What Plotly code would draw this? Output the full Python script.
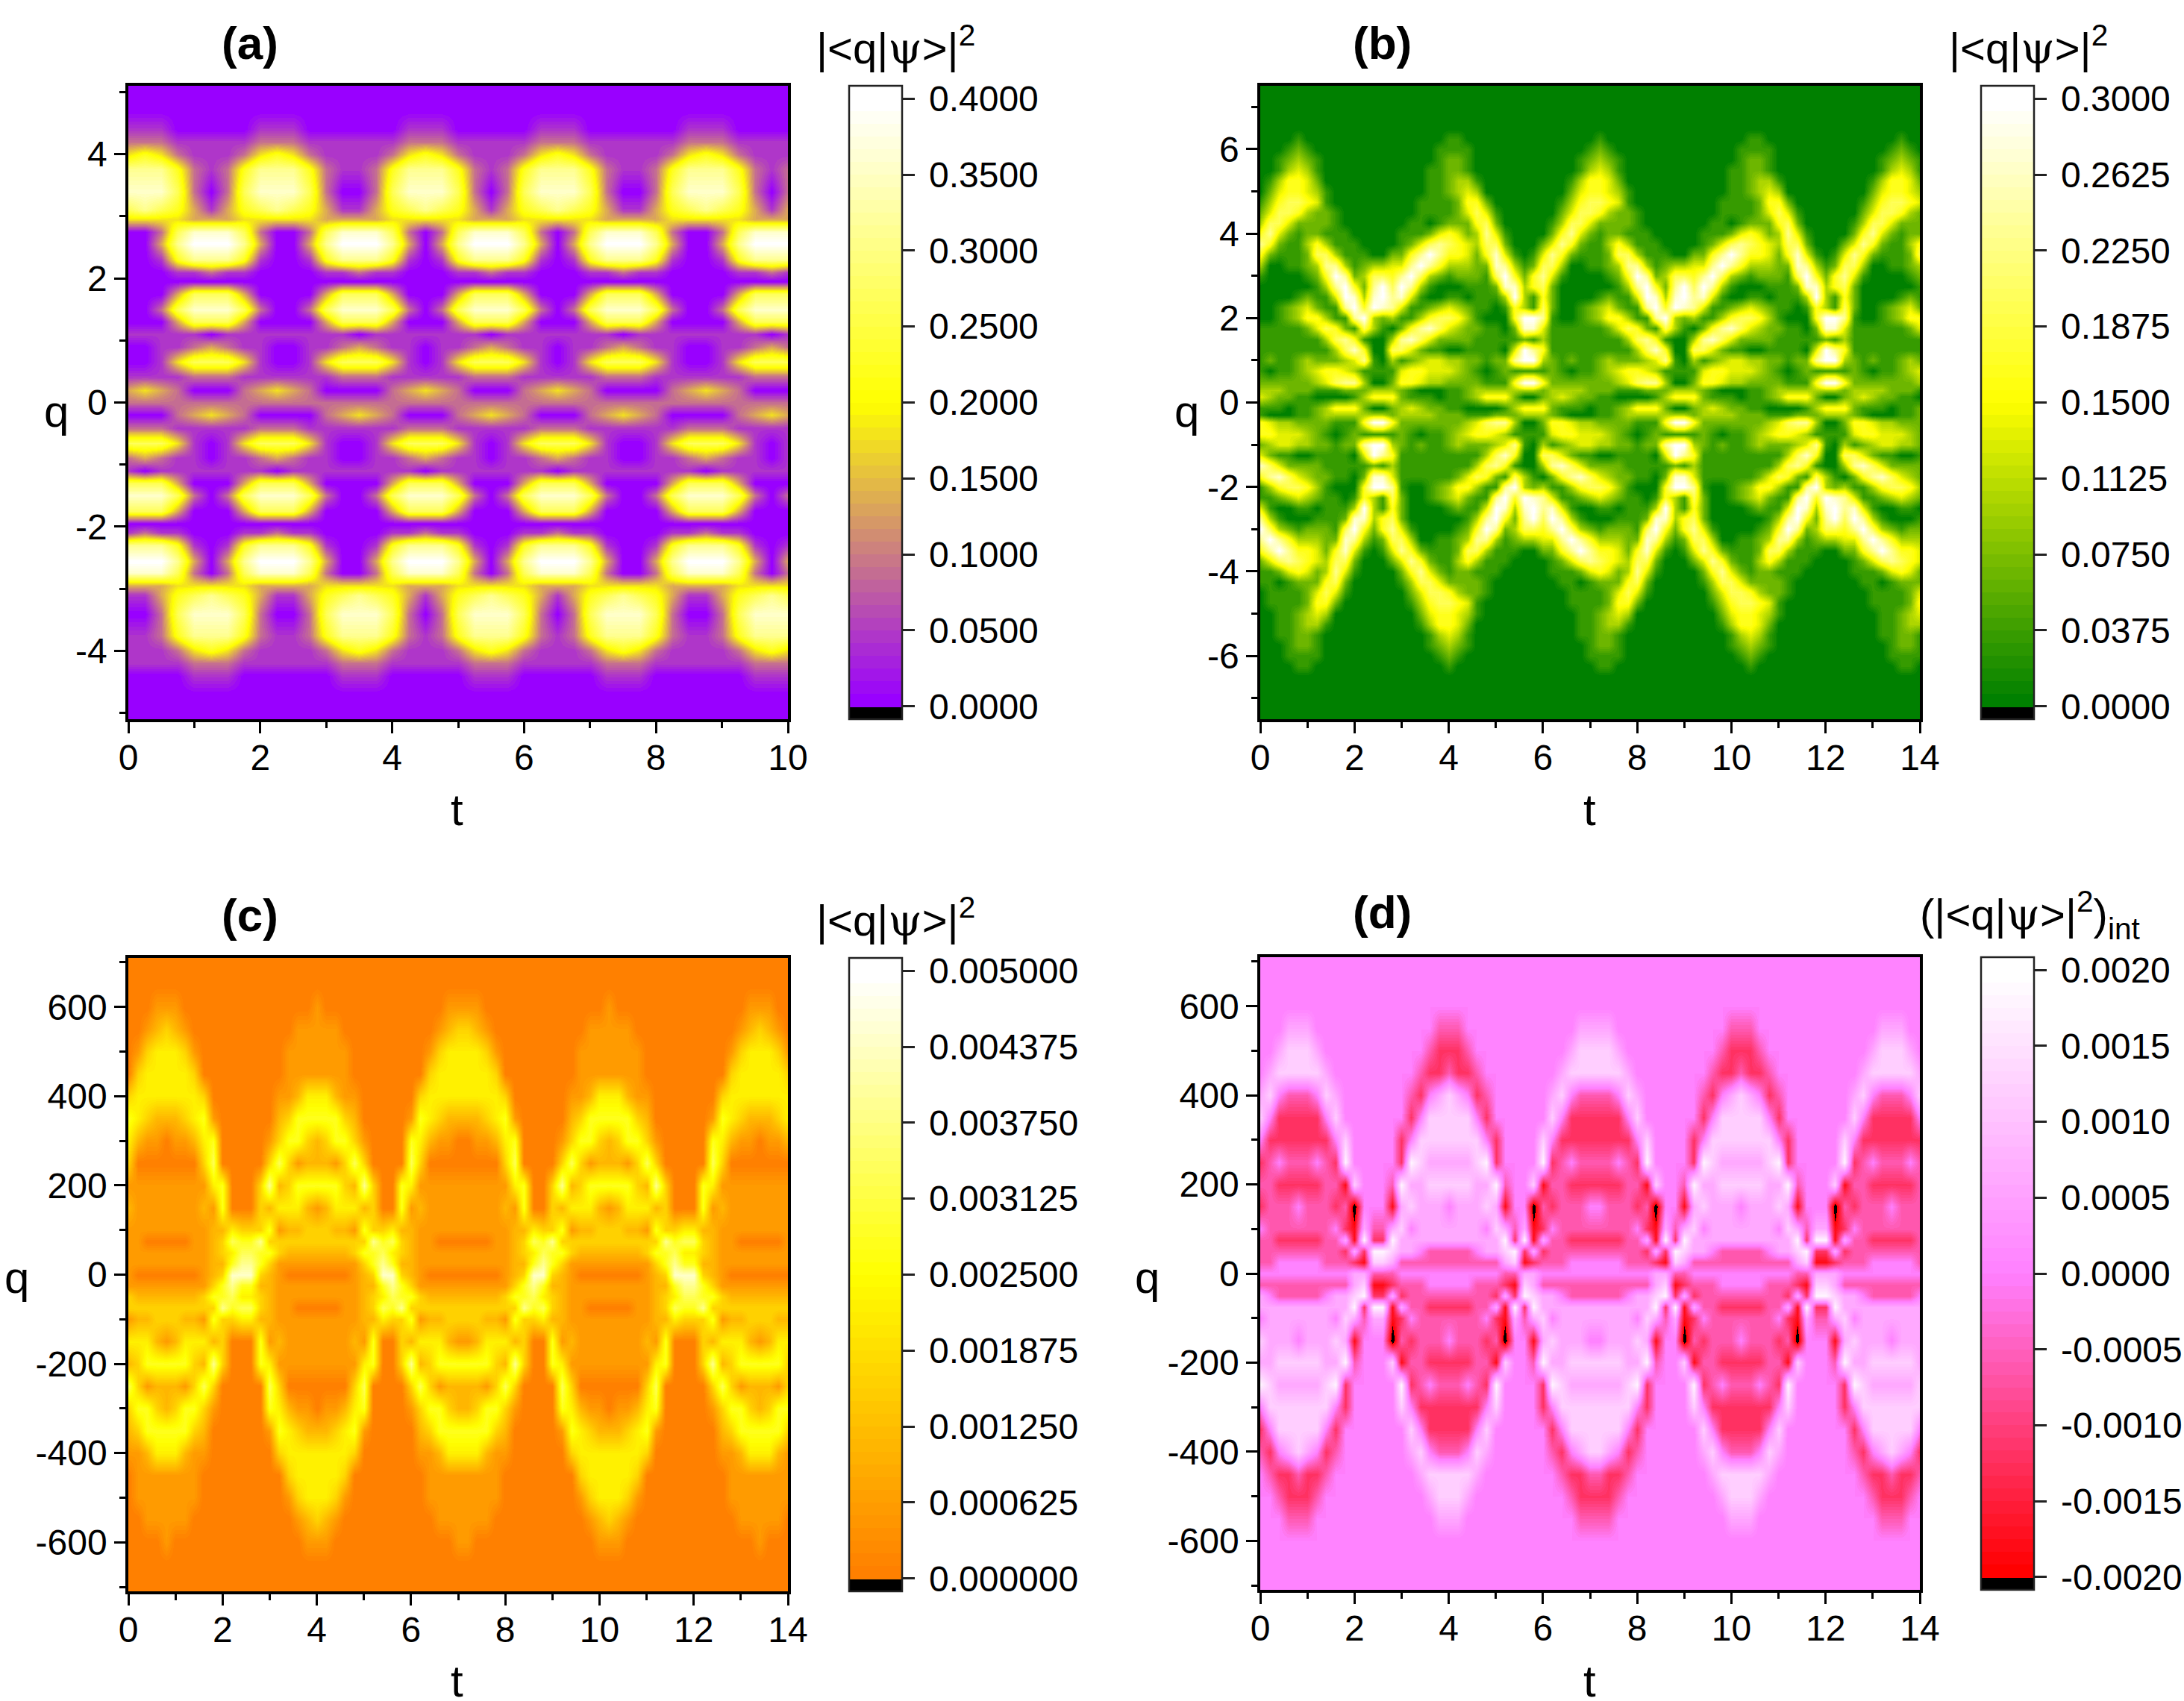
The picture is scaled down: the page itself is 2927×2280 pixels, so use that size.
import plotly.graph_objects as go

W, H = 2927, 2280

# ---------- values (one digit per cell, rows top to bottom) ----------
t_a = [0.25 * i for i in range(41)]
q_a = [5.1, 4.7, 4.4, 4.2, 4.0, 3.75, 3.4, 3.1, 2.95, 2.75, 2.55, 2.3, 2.1, 1.95, 1.75, 1.5, 1.3, 1.1, 0.9, 0.65, 0.42, 0.2, 0,
       -0.2, -0.42, -0.65, -0.9, -1.1, -1.3, -1.5, -1.75, -1.95, -2.1, -2.3, -2.55, -2.75, -2.95, -3.1, -3.4, -3.75, -4.0, -4.2, -4.4, -4.7, -5.1]
z_a_rows = [
"00000000000000000000000000000000000000000",
"00000000000000000000000000000000000000000",
"11100000111000000111000001110000001110000",
"22211111222111111222111112221111112221111",
"45421112454211112454211124542111124542111",
"77752125777521125777521257775211257775212",
"88862026888620026888620268886200268886202",
"67653135676531135676531356765311356765313",
"44443334444433334444433344444333344444333",
"00268886200268886202688862026888620026888",
"00379997300379997303799973037999730037999",
"00157775100157775101577751015777510015777",
"00011211000011211000112110001121100001121",
"00000000000000000000000000000000000000000",
"00036663000036663000366630003666300003666",
"00268886200268886202688862026888620026888",
"00036663000036663000366630003666300003666",
"11111011111111011111110111111101111111101",
"00112321100112321101123211011232110011232",
"00146664100146664101466641014666410014666",
"11112221111112221111122211111222111111222",
"34320002343200002343200023432000023432000",
"22222222222222222222222222222222222222222",
"00023432000023432000234320002343200002343",
"22211111222111111222111112221111112221111",
"66641014666410014666410146664100146664101",
"23211011232110011232110112321100112321101",
"10111111101111111101111111011111111011111",
"66630003666300003666300036663000036663000",
"88862026888620026888620268886200268886202",
"66630003666300003666300036663000036663000",
"00000000000000000000000000000000000000000",
"12110001121100001121100011211000011211000",
"77751015777510015777510157775100157775101",
"99973037999730037999730379997300379997303",
"88862026888620026888620268886200268886202",
"33344444333344444333444443334444433334444",
"11356765311356765313567653135676531135676",
"00268886200268886202688862026888620026888",
"11257775211257775212577752125777521125777",
"11124542111124542111245421112454211112454",
"11112221111112221111122211111222111111222",
"00001110000001110000011100000111000000111",
"00000000000000000000000000000000000000000",
"00000000000000000000000000000000000000000",
]

t_14 = [0.2 * i for i in range(71)]
q_b = [7.5, 6.5, 6.25, 6, 5.75, 5.5, 5.25, 5, 4.75, 4.5, 4.25, 4, 3.75, 3.5, 3.25, 3, 2.75, 2.5, 2.25, 2, 1.75, 1.5, 1.25, 1, 0.75, 0.47, 0.3, 0.14,
       -0.14, -0.3, -0.47, -0.75, -1, -1.25, -1.5, -1.75, -2, -2.25, -2.5, -2.75, -3, -3.25, -3.5, -3.75, -4, -4.25, -4.5, -4.75, -5, -5.25, -5.5, -5.75, -6, -6.25, -6.5, -7.5]
z_b_rows = [
"00000000000000000000000000000000000000000000000000000000000000000000000",
"00000000000000000000000000000000000000000000000000000000000000000000000",
"0000100000000 0000000110000000 0000000100000000 0000000110000000 0000000100",
"0001210000000 0000001111000000 0000001210000000 0000001111000000 0000001210",
"0012321000000 0000001221000000 0000012321000000 0000001221000000 0000012321",
"0013431000000 0000011221000000 0000013431000000 0000011221000000 0000013431",
"0135542000000 0000011233100000 0000135542000000 0000011233100000 0000135542",
"0245543100000 0000011234300000 0000245543100000 0000011234300000 0000245543",
"1356654100000 0000111125520000 0001356654100000 0000111125520000 0001356654",
"2466532210000 0000111124641000 0002466532210000 0000111124641000 0002466532",
"3664222210000 0001101222562000 0013664222210000 0001101222562000 0013664222",
"5742122111000 0011124542374100 0025742122111000 0011124542374100 0025742122",
"7521135311100 0012467654366200 0247521135311100 0012467654366200 0247521135",
"5211126631110 0225797554258410 1475211126631110 0225797554258410 1475211126",
"3001123773123 3447975333228731 2663001123773123 3447975333228731 2663001123",
"1000012597236 6579632122216952 5741000012597236 6579632122216952 5741000012",
"0000001379527 9697310001112883 5620000001379527 9697310001112883 5620000001",
"0000121149838 9784100110111393 1520000121149838 9784100110111393 1520000121",
"0012342117959 8741123432110153 1620012342117959 8741123432110153 1620012342",
"0012355311793 2311356653100059 9710012355311793 2311356653100059 9710012355",
"1111124652163 1025786432211028 8411111124652163 1025786432211028 8411111124",
"1111111367510 0378642222111112 1311111111367510 0378642222111112 1311111111",
"1111111136850 0664211001111049 7511111111136850 0664211001111049 7511111111",
"1211232223471 0312344332212279 9321211232223471 0312344332212279 9321211232",
"1011234554311 1145544432101211 1121011234554311 1145544432101211 1121011234",
"2222223467730 0255433222211159 9522222223467730 0255433222211159 9522222223",
"3332221112223 3321000112333333 3233332221112223 3321000112333333 3233332221",
"4322110000135 5521110112355520 0234322110000135 5521110112355520 0234322110",
"1110112355520 0234322110000135 5521110112355520 0234322110000135 5521110112",
"1000112333333 3233332221112223 3321000112333333 3233332221112223 3321000112",
"5433222211159 9522222223467730 0255433222211159 9522222223467730 0255433222",
"5544432101211 1121011234554311 1145544432101211 1121011234554311 1145544432",
"2344332212279 9321211232223471 0312344332212279 9321211232223471 0312344332",
"4211001111049 7511111111136850 0664211001111049 7511111111136850 0664211001",
"8642222111112 1311111111367510 0378642222111112 1311111111367510 0378642222",
"5786432211028 8411111124652163 1025786432211028 8411111124652163 1025786432",
"1356653100059 9710012355311793 2311356653100059 9710012355311793 2311356653",
"1123432110153 1620012342117959 8741123432110153 1620012342117959 8741123432",
"4100110111393 1520000121149838 9784100110111393 1520000121149838 9784100110",
"7310001112883 5620000001379527 9697310001112883 5620000001379527 9697310001",
"9632122216952 5741000012597236 6579632122216952 5741000012597236 6579632122",
"7975333228731 2663001123773123 3447975333228731 2663001123773123 3447975333",
"5797554258410 1475211126631110 0225797554258410 1475211126631110 0225797554",
"2467654366200 0247521135311100 0012467654366200 0247521135311100 0012467654",
"1124542374100 0025742122111000 0011124542374100 0025742122111000 0011124542",
"1101222562000 0013664222210000 0001101222562000 0013664222210000 0001101222",
"0111124641000 0002466532210000 0000111124641000 0002466532210000 0000111124",
"0111125520000 0001356654100000 0000111125520000 0001356654100000 0000111125",
"0011234300000 0000245543100000 0000011234300000 0000245543100000 0000011234",
"0011233100000 0000135542000000 0000011233100000 0000135542000000 0000011233",
"0011221000000 0000013431000000 0000011221000000 0000013431000000 0000011221",
"0001221000000 0000012321000000 0000001221000000 0000012321000000 0000001221",
"0001111000000 0000001210000000 0000001111000000 0000001210000000 0000001111",
"0000110000000 0000000100000000 0000000110000000 0000000100000000 0000000110",
"00000000000000000000000000000000000000000000000000000000000000000000000",
"00000000000000000000000000000000000000000000000000000000000000000000000",
]

q_cd = [710, 650, 600, 550, 500, 450, 400, 350, 300, 250, 200, 150, 100, 75, 50, 25, 0,
        -25, -50, -75, -100, -150, -200, -250, -300, -350, -400, -450, -500, -550, -600, -650, -710]
z_c_rows = [
"00000000000000000000000000000000000000000000000000000000000000000000000",
"00000000000000000000000000000000000000000000000000000000000000000000000",
"000111000000 0000000010000000 0000001111000000 000000010000000 000000011100",
"0012 3 2100000 0 0000011 1 1100000 0000012 33 2100000 0000011 1 1100000 0 0000012 3 210",
"0134 4 4310000 0 0000111 1 1110000 0000134 44 4310000 0000111 1 1110000 0 0000134 4 431",
"0344 4 4430000 0 0000111 1 1110000 0000344 44 4430000 0000111 1 1110000 0 0000344 4 443",
"3444 4 4443000 0 0001124 4 4211000 0003444 44 4443000 0001124 4 4211000 0 0003444 4 444",
"5432 2 2345100 0 0002355 5 5532000 0015432 22 2345100 0002355 5 5532000 0 0015432 2 234",
"4211 0 1124500 0 0013553 2 3553100 0054211 00 1124500 0013553 2 3553100 0 0054211 0 112",
"3000 0 0003600 0 0036312 2 2136300 0063000 00 0003600 0036312 2 2136300 0 0063000 0 000",
"1111 1 1111450 0 0372355 5 5532730 0541111 11 1111450 0372355 5 5532730 0 0541111 1 111",
"2111 1 1112150 0 0324442 1 2444230 0512111 11 1112150 0324442 1 2444230 0 0512111 1 111",
"1111 1 1111224 3 3351223 3 3221533 4221111 11 1111224 3351223 3 3221533 4 4221111 1 111",
"1100 0 0011236 5 5733333 3 3333375 6321100 00 0011236 5733333 3 3333375 6 6321100 0 001",
"1111 1 1111234 6 6553222 2 2223556 4321111 11 1111234 6553222 2 2223556 4 4321111 1 111",
"1111 1 1111225 7 7531111 1 1111357 5221111 11 1111225 7531111 1 1111357 5 5221111 1 111",
"1000 0 0001238 8 8321000 0 0001238 8321000 00 0001238 8321000 0 0001238 8 8321000 0 000",
"1111 1 1111357 5 5221111 1 1111225 7531111 11 1111357 5221111 1 1111225 7 7531111 1 111",
"3222 2 2223556 4 4321111 1 1111234 6553222 22 2223556 4321111 1 1111234 6 6553222 2 222",
"3333 3 3333375 6 6321100 0 0011236 5733333 33 3333375 6321100 0 0011236 5 5733333 3 333",
"1223 3 3221533 4 4221111 1 1111224 3351223 33 3221533 4221111 1 1111224 3 3351223 3 322",
"4442 1 2444230 0 0512111 1 1112150 0324442 11 2444230 0512111 1 1112150 0 0324442 1 244",
"2355 5 5532730 0 0541111 1 1111450 0372355 55 5532730 0541111 1 1111450 0 0372355 5 553",
"6312 2 2136300 0 0063000 0 0003600 0036312 22 2136300 0063000 0 0003600 0 0036312 2 213",
"3553 2 3553100 0 0054211 0 1124500 0013553 22 3553100 0054211 0 1124500 0 0013553 2 355",
"2355 5 5532000 0 0015432 2 2345100 0002355 55 5532000 0015432 2 2345100 0 0002355 5 553",
"1124 4 4211000 0 0003444 4 4443000 0001124 44 4211000 0003444 4 4443000 0 0001124 4 421",
"0111 1 1110000 0 0000344 4 4430000 0000111 11 1110000 0000344 4 4430000 0 0000111 1 111",
"0111 1 1110000 0 0000134 4 4310000 0000111 11 1110000 0000134 4 4310000 0 0000111 1 111",
"0011 1 1100000 0 0000012 3 2100000 0000011 11 1100000 0000012 3 2100000 0 0000011 1 110",
"000010000000 0000000111000000 0000000110000000 000000111000000 000000001000",
"00000000000000000000000000000000000000000000000000000000000000000000000",
"00000000000000000000000000000000000000000000000000000000000000000000000",
]

z_d_rows = [
"44444444444444444444444444444444444444444444444444444444444444444444444",
"44444444444444444444444444444444444444444444444444444444444444444444444",
"44444444444444444444444444444444444444444444444444444444444444444444444",
"4445 5 5444444 4 4444443 3 3444444 4444445 55 5444444 4444443 3 3444444 4 4444445 5 544",
"4456 6 6544444 4 4444432 2 2344444 4444456 66 6544444 4444432 2 2344444 4 4444456 6 654",
"4566 6 6654444 4 4444322 3 2234444 4444566 66 6654444 4444322 3 2234444 4 4444566 6 665",
"5643 3 3465444 4 4443245 6 5423444 4445643 33 3465444 4443245 6 5423444 4 4445643 3 346",
"6422 2 2246444 4 4442466 6 6642444 4446422 22 2246444 4442466 6 6642444 4 4446422 2 224",
"4222 2 2224644 4 4424666 6 6664244 4464222 22 2224644 4424666 6 6664244 4 4464222 2 222",
"2343 3 3432744 4 4427655 5 5567244 4472343 33 3432744 4427655 5 5567244 4 4472343 3 343",
"3322 2 2233164 4 4375566 6 6655734 4613322 22 2233164 4375566 6 6655734 4 4613322 2 223",
"2333 4 3332304 4 4156555 4 5556514 4032333 44 3332304 4156555 4 5556514 4 4032333 4 333",
"4333 3 3334215 3 3564555 5 5554653 5124333 33 3334215 3564555 5 5554653 5 5124333 3 333",
"3322 2 2233517 2 2755555 5 5555572 7153322 22 2233517 2755555 5 5555572 7 7153322 2 223",
"3333 3 3333252 7 7655433 3 3345567 2523333 33 3333252 7655433 3 3345567 2 2523333 3 333",
"3344 4 4433321 6 6533333 3 3333356 1233344 44 4433321 6533333 3 3333356 1 1233344 4 443",
"4444 4 4444455 3 3344444 4 4444433 5544444 44 4444455 3344444 4 4444433 5 5544444 4 444",
"3333 3 3333356 1 1233344 4 4433321 6533333 33 3333356 1233344 4 4433321 6 6533333 3 333",
"5433 3 3345567 2 2523333 3 3333252 7655433 33 3345567 2523333 3 3333252 7 7655433 3 334",
"5555 5 5555572 7 7153322 2 2233517 2755555 55 5555572 7153322 2 2233517 2 2755555 5 555",
"4555 5 5554653 5 5124333 3 3334215 3564555 55 5554653 5124333 3 3334215 3 3564555 5 555",
"6555 4 5556514 4 4032333 4 3332304 4156555 44 5556514 4032333 4 3332304 4 4156555 4 555",
"5566 6 6655734 4 4613322 2 2233164 4375566 66 6655734 4613322 2 2233164 4 4375566 6 665",
"7655 5 5567244 4 4472343 3 3432744 4427655 55 5567244 4472343 3 3432744 4 4427655 5 556",
"4666 6 6664244 4 4464222 2 2224644 4424666 66 6664244 4464222 2 2224644 4 4424666 6 666",
"2466 6 6642444 4 4446422 2 2246444 4442466 66 6642444 4446422 2 2246444 4 4442466 6 664",
"3245 6 5423444 4 4445643 3 3465444 4443245 66 5423444 4445643 3 3465444 4 4443245 6 542",
"4322 3 2234444 4 4444566 6 6654444 4444322 33 2234444 4444566 6 6654444 4 4444322 3 223",
"4432 2 2344444 4 4444456 6 6544444 4444432 22 2344444 4444456 6 6544444 4 4444432 2 234",
"4443 3 3444444 4 4444445 5 5444444 4444443 33 3444444 4444445 5 5444444 4 4444443 3 344",
"44444444444444444444444444444444444444444444444444444444444444444444444",
"44444444444444444444444444444444444444444444444444444444444444444444444",
"44444444444444444444444444444444444444444444444444444444444444444444444",
]

# value of one digit step
unit_a, unit_b, unit_c, unit_d = 0.4 / 9, 0.3 / 9, 0.005 / 9, 0.0006
offset_d = 4

ticks_x_10 = [0, 2, 4, 6, 8, 10]
ticks_x_14 = [0, 2, 4, 6, 8, 10, 12, 14]
ticks_q_a = [-4, -2, 0, 2, 4]
ticks_q_b = [-6, -4, -2, 0, 2, 4, 6]
ticks_q_cd = [-600, -400, -200, 0, 200, 400, 600]
cb_a = ["0.0000", "0.0500", "0.1000", "0.1500", "0.2000", "0.2500", "0.3000", "0.3500", "0.4000"]
cb_b = ["0.0000", "0.0375", "0.0750", "0.1125", "0.1500", "0.1875", "0.2250", "0.2625", "0.3000"]
cb_c = ["0.000000", "0.000625", "0.001250", "0.001875", "0.002500", "0.003125", "0.003750", "0.004375", "0.005000"]
cb_d = ["-0.0020", "-0.0015", "-0.0010", "-0.0005", "0.0000", "0.0005", "0.0010", "0.0015", "0.0020"]

# ---------- helpers ----------
FONT = "Liberation Sans"
TICK_SIZE = 48


def parse(rows, unit, width, offset=0):
    out = []
    for r in rows:
        r = r.replace(" ", "")
        r = r.ljust(width, r[-1])[:width]
        out.append([(int(c) - offset) * unit for c in r])
    return out


def stepped(zlo, zhi, zmin, zmax, anchors, n=48):
    def col(f):
        p = f * (len(anchors) - 1)
        i = min(int(p), len(anchors) - 2)
        u = p - i
        return "rgb(%d,%d,%d)" % tuple(round(anchors[i][k] + (anchors[i + 1][k] - anchors[i][k]) * u) for k in range(3))
    fr = lambda v: (v - zmin) / (zmax - zmin)
    gap = 1e-3
    sc = [[0, "rgb(0,0,0)"], [fr(zlo) - gap, "rgb(0,0,0)"]]
    for k in range(n):
        a = zlo + (zhi - zlo) * k / n
        b = zlo + (zhi - zlo) * (k + 1) / n if k < n - 1 else zmax
        c = col(k / (n - 1))
        sc.append([fr(a) - gap if k == 0 else fr(a), c])
        sc.append([min(1, fr(b)), c])
    return sc


PSI = "<span style=\"font-family:'DejaVu Serif'\">ψ</span>"
PANELS = [
    dict(x=t_a, y=q_a, z=parse(z_a_rows, unit_a, 41), lo=0, hi=0.4, anchors=[(153, 0, 255), (255, 255, 0), (255, 255, 255)],
         box=(172, 1056, 115, 964), cb=1138, xt=ticks_x_10, xmax=10, yt=ticks_q_a, yr=5.1, ym=1, xm=1, labels=cb_a,
         name="(a)", nx=335, ny=58, title="|&lt;q|" + PSI + "&gt;|<sup>2</sup>", tx=1200, ty=62,
         tpos=(612, 1085), qpos=(75, 551)),
    dict(x=t_14, y=q_b, z=parse(z_b_rows, unit_b, 71), lo=0, hi=0.3, anchors=[(0, 128, 0), (255, 255, 0), (255, 255, 255)],
         box=(1689, 2573, 115, 964), cb=2655, xt=ticks_x_14, xmax=14, yt=ticks_q_b, yr=7.5, ym=1, xm=1, labels=cb_b,
         name="(b)", nx=1852, ny=58, title="|&lt;q|" + PSI + "&gt;|<sup>2</sup>", tx=2718, ty=62,
         tpos=(2130, 1085), qpos=(1590, 551)),
    dict(x=t_14, y=q_cd, z=parse(z_c_rows, unit_c, 71), lo=0, hi=0.005, anchors=[(255, 128, 0), (255, 255, 0), (255, 255, 255)],
         box=(172, 1056, 1284, 2133), cb=1138, xt=ticks_x_14, xmax=14, yt=ticks_q_cd, yr=710, ym=100, xm=1, labels=cb_c,
         name="(c)", nx=335, ny=1226, title="|&lt;q|" + PSI + "&gt;|<sup>2</sup>", tx=1200, ty=1230,
         tpos=(612, 2253), qpos=(22, 1712)),
    dict(x=t_14, y=q_cd, z=parse(z_d_rows, unit_d, 71, offset_d), lo=-0.002, hi=0.002, anchors=[(255, 0, 0), (255, 128, 255), (255, 255, 255)],
         box=(1689, 2573, 1283, 2131), cb=2655, xt=ticks_x_14, xmax=14, yt=ticks_q_cd, yr=710, ym=100, xm=1, labels=cb_d,
         name="(d)", nx=1852, ny=1222, title="(|&lt;q|" + PSI + "&gt;|<sup>2</sup>)<sub>int</sub>", tx=2720, ty=1226,
         tpos=(2130, 2253), qpos=(1538, 1712)),
]

fig = go.Figure()
layout = dict(width=W, height=H, margin=dict(l=0, r=0, t=0, b=0, autoexpand=False), paper_bgcolor="white", plot_bgcolor="white",
              font=dict(family=FONT, color="black"), annotations=[])


def note(text, pos, size):
    return dict(text=text, xref="paper", yref="paper", x=pos[0] / W, y=1 - pos[1] / H, showarrow=False,
                xanchor="center", yanchor="middle", font=dict(family=FONT, size=size, color="black"))


for n, p in enumerate(PANELS, start=1):
    L, R, T, B = p["box"]
    span = p["hi"] - p["lo"]
    extra = span * 17.2 / 815
    zmin, zmax = p["lo"] - extra, p["hi"] + extra
    tickvals = [p["lo"] + span * k / 8 for k in range(9)]
    fig.add_trace(go.Heatmap(
        x=p["x"], y=p["y"], z=p["z"], zsmooth="best", zmin=zmin, zmax=zmax,
        colorscale=stepped(p["lo"], p["hi"], zmin, zmax, p["anchors"]),
        xaxis=f"x{n}", yaxis=f"y{n}", hoverinfo="skip",
        colorbar=dict(x=p["cb"] / W, xanchor="left", xpad=0, ypad=0, y=1 - T / H, yanchor="top", len=(B - T) / H, lenmode="fraction",
                      thickness=71, thicknessmode="pixels", outlinecolor="#222", outlinewidth=2.5, ticks="outside", ticklen=16, tickwidth=2.5,
                      tickcolor="#222", tickmode="array", tickvals=tickvals, ticktext=["\u2009" + s for s in p["labels"]],
                      tickfont=dict(family=FONT, size=TICK_SIZE, color="black")),
    ))
    common = dict(showline=True, mirror=True, linecolor="black", linewidth=3.5, ticks="outside", ticklen=15, tickwidth=3, tickcolor="black",
                  showgrid=False, zeroline=False, tickmode="array", tickfont=dict(family=FONT, size=TICK_SIZE, color="black"))
    layout[f"xaxis{n}"] = dict(common, domain=[L / W, R / W], range=[0, p["xmax"]], anchor=f"y{n}", tickvals=p["xt"], ticktext=[str(v) for v in p["xt"]],
                               ticklabelstandoff=-8,
                               minor=dict(tickmode="linear", tick0=0, dtick=p["xm"], ticks="outside", ticklen=8, tickwidth=3, tickcolor="black", showgrid=False))
    layout[f"yaxis{n}"] = dict(common, domain=[1 - B / H, 1 - T / H], range=[-p["yr"], p["yr"]], anchor=f"x{n}", tickvals=p["yt"], ticktext=[str(v) for v in p["yt"]],
                               minor=dict(tickmode="linear", tick0=0, dtick=p["ym"], ticks="outside", ticklen=8, tickwidth=3, tickcolor="black", showgrid=False))
    layout["annotations"] += [
        note(f"<b>{p['name']}</b>", (p["nx"], p["ny"]), 62),
        note(p["title"], (p["tx"], p["ty"]), 58),
        note("t", p["tpos"], 60),
        note("q", p["qpos"], 60),
    ]

fig.update_layout(**layout)
fig.write_html("out.html", config={"displayModeBar": False},
               post_script="document.body.style.margin='0';document.body.style.overflow='hidden';")
